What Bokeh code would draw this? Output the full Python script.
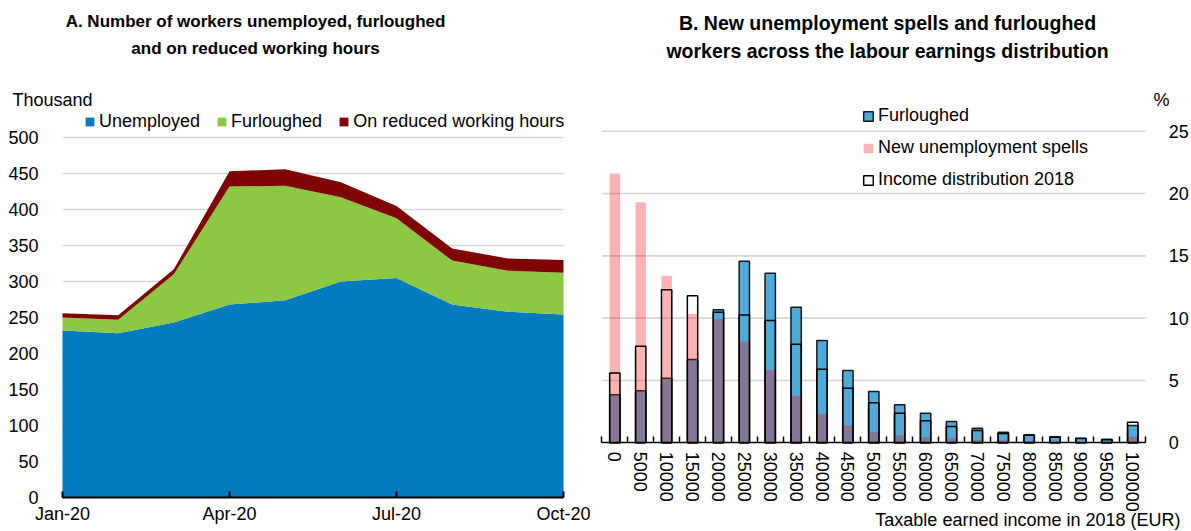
from bokeh.plotting import figure
from bokeh.layouts import row
from bokeh.models import (ColumnDataSource, Range1d, FixedTicker,
                          LinearAxis, Label, Legend, LegendItem)
from bokeh.embed import file_html
from bokeh.resources import INLINE

# ---------------- data ----------------
months = ["Jan-20", "Feb-20", "Mar-20", "Apr-20", "May-20",
          "Jun-20", "Jul-20", "Aug-20", "Sep-20", "Oct-20"]
unemployed = [232, 228, 243, 268, 274, 300, 305, 268, 258, 254]
furloughed = [18, 19, 67, 164, 159, 117, 83, 61, 57, 58]
reduced_hours = [6, 6, 7, 21, 23, 21, 17, 17, 17, 18]

income_bands = ["0", "5000", "10000", "15000", "20000", "25000", "30000", "35000",
                "40000", "45000", "50000", "55000", "60000", "65000", "70000", "75000",
                "80000", "85000", "90000", "95000", "100000"]
furlough_share = [3.85, 4.17, 5.18, 6.68, 10.67, 14.56, 13.6, 10.87, 8.2, 5.8, 4.11,
                  3.05, 2.37, 1.71, 1.17, 0.85, 0.64, 0.48, 0.37, 0.28, 1.39]
new_spells_share = [21.6, 19.3, 13.4, 10.34, 9.94, 8.12, 5.85, 3.77, 2.33, 1.39, 0.85,
                    0.58, 0.45, 0.37, 0.25, 0.2, 0.15, 0.1, 0.08, 0.06, 0.5]
income_share = [5.6, 7.75, 12.27, 11.79, 10.47, 10.26, 9.81, 7.91, 5.9, 4.38, 3.21,
                2.37, 1.76, 1.31, 0.99, 0.75, 0.6, 0.45, 0.34, 0.25, 1.65]

a_yticks = list(range(0, 501, 50))
b_yticks = list(range(0, 26, 5))
quarter_idx = [0, 3, 6, 9]

# ---------------- styling ----------------
FONT = "Liberation Sans"
FS = "18px"
TITLE_A_FS = "17px"
TITLE_B_FS = "19.5px"
BLUE = "#037bc1"
GREEN = "#8cc841"
DARKRED = "#7f0404"
FURL_BLUE = "#4fa9d9"
GRID = "#d6d6d6"
H = 531


def padded_range(lo, hi, px_lo, px_hi, total):
    """Range whose [lo, hi] lands on pixels [px_lo, px_hi] of a canvas `total` px long."""
    k = (px_hi - px_lo) / (hi - lo)
    return Range1d(lo - px_lo / k, hi + (total - px_hi) / k)


def bare_figure(width, x_range, y_range):
    p = figure(width=width, height=H, x_range=x_range, y_range=y_range,
               x_axis_location=None, y_axis_location=None,
               output_backend="svg", toolbar_location=None,
               min_border_left=0, min_border_right=0, min_border_top=0, min_border_bottom=0)
    p.outline_line_color = None
    p.background_fill_color = "white"
    p.border_fill_color = "white"
    p.grid.visible = False
    return p


def label(p, cx, cy, text, size=FS, **kw):
    p.add_layout(Label(x=cx, y=H - cy, x_units="screen", y_units="screen", text=text,
                       text_font=FONT, text_font_size=size, text_color="black", **kw))


def style_labels(axis):
    axis.major_label_text_font = FONT
    axis.major_label_text_font_size = FS
    axis.major_label_text_color = "black"


# ---------------- panel A: stacked areas ----------------
WA = 596
pa = bare_figure(WA,
                 padded_range(0, len(months) - 1, 62, 563, WA),
                 padded_range(0, 500, H - 497, H - 137, H))

pa.segment(x0=0, x1=len(months) - 1, y0=a_yticks[1:], y1=a_yticks[1:],
           line_color=GRID, line_width=1.6)

src_a = ColumnDataSource(dict(x=list(range(len(months))), unemployed=unemployed,
                              furloughed=furloughed, reduced=reduced_hours))
areas = pa.varea_stack(["unemployed", "furloughed", "reduced"], x="x",
                       color=[BLUE, GREEN, DARKRED], source=src_a)

ya = LinearAxis(fixed_location=0, bounds=(0, 500), ticker=FixedTicker(ticks=a_yticks))
ya.axis_line_color = None
ya.major_tick_line_color = None
ya.minor_tick_line_color = None
ya.major_label_standoff = 18
style_labels(ya)
pa.add_layout(ya, "left")

xa = LinearAxis(fixed_location=0, bounds=(0, len(months) - 1),
                ticker=FixedTicker(ticks=quarter_idx))
xa.major_label_overrides = {i: months[i] for i in quarter_idx}
xa.axis_line_color = "black"
xa.axis_line_width = 2
xa.major_tick_line_color = "black"
xa.major_tick_line_width = 2
xa.major_tick_in = 6
xa.major_tick_out = 0
xa.minor_tick_line_color = None
xa.major_label_standoff = 6
style_labels(xa)
pa.add_layout(xa, "below")

leg_a = Legend(items=[LegendItem(label="Unemployed", renderers=[areas[0]]),
                      LegendItem(label="Furloughed", renderers=[areas[1]]),
                      LegendItem(label="On reduced working hours", renderers=[areas[2]])],
               orientation="horizontal", location=(84, H - 133),
               glyph_width=11, glyph_height=11, label_standoff=4, spacing=16,
               padding=0, margin=0, border_line_color=None, background_fill_alpha=0,
               label_text_font=FONT, label_text_font_size=FS, label_text_color="black",
               label_height=24)
pa.add_layout(leg_a)

label(pa, 255, 21, "A. Number of workers unemployed, furloughed", size=TITLE_A_FS,
      text_font_style="bold", text_align="center", text_baseline="middle")
label(pa, 255, 48, "and on reduced working hours", size=TITLE_A_FS,
      text_font_style="bold", text_align="center", text_baseline="middle")
label(pa, 12, 99, "Thousand", text_align="left", text_baseline="middle")

# ---------------- panel B: overlapping bars ----------------
WB = 595
OX = 596  # left edge of this panel on the page
n = len(income_bands)
xs = list(range(n))
pb = bare_figure(WB,
                 padded_range(-0.5, n - 0.5, 601.4 - OX, 1145.2 - OX, WB),
                 padded_range(0, 25, H - 442.3, H - 130.7, H))

pb.segment(x0=-0.5, x1=n - 0.5, y0=b_yticks[1:], y1=b_yticks[1:],
           line_color=GRID, line_width=1.6)

src_b = ColumnDataSource(dict(x=xs, furl=furlough_share, spells=new_spells_share,
                              income=income_share))
BAR_W = 0.4
r_furl = pb.vbar(x="x", top="furl", width=BAR_W, source=src_b,
                 fill_color=FURL_BLUE, line_color="#1a1a1a", line_width=1.5)
r_spell = pb.vbar(x="x", top="spells", width=BAR_W, source=src_b,
                  fill_color="#ff0000", fill_alpha=0.3, line_color=None)
r_inc = pb.vbar(x="x", top="income", width=BAR_W, source=src_b,
                fill_color=None, line_color="black", line_width=1.5)

yb = LinearAxis(fixed_location=n - 0.5, bounds=(0, 25), ticker=FixedTicker(ticks=b_yticks))
yb.axis_line_color = None
yb.major_tick_line_color = None
yb.minor_tick_line_color = None
yb.major_label_standoff = 17
style_labels(yb)
pb.add_layout(yb, "right")

xb = LinearAxis(fixed_location=0, bounds=(-0.5, n - 0.5),
                ticker=FixedTicker(ticks=xs, minor_ticks=[i - 0.5 for i in range(n + 1)]))
xb.major_label_overrides = {i: income_bands[i] for i in xs}
xb.major_label_orientation = "vertical"
xb.axis_line_color = "black"
xb.axis_line_width = 1.5
xb.major_tick_line_color = None
xb.minor_tick_line_color = "black"
xb.minor_tick_line_width = 1.5
xb.minor_tick_in = 6
xb.minor_tick_out = 0
xb.major_label_standoff = 3
style_labels(xb)
pb.add_layout(xb, "below")

leg_b = Legend(items=[LegendItem(label="Furloughed", renderers=[r_furl]),
                      LegendItem(label="New unemployment spells", renderers=[r_spell]),
                      LegendItem(label="Income distribution 2018", renderers=[r_inc])],
               orientation="vertical", location=(862 - OX, H - 191.5),
               glyph_width=12, glyph_height=12, label_standoff=4, spacing=8,
               padding=0, margin=0, border_line_color=None, background_fill_alpha=0,
               label_text_font=FONT, label_text_font_size=FS, label_text_color="black",
               label_height=24)
pb.add_layout(leg_b)

label(pb, 887 - OX, 22, "B. New unemployment spells and furloughed", size=TITLE_B_FS,
      text_font_style="bold", text_align="center", text_baseline="middle")
label(pb, 887 - OX, 50, "workers across the labour earnings distribution", size=TITLE_B_FS,
      text_font_style="bold", text_align="center", text_baseline="middle")
label(pb, 1161 - OX, 99, "%", text_align="center", text_baseline="middle")
label(pb, 1180 - OX, 519, "Taxable earned income in 2018 (EUR)",
      text_align="right", text_baseline="middle")

layout = row(pa, pb, spacing=0)
open("out.html", "w").write(file_html(layout, INLINE))
